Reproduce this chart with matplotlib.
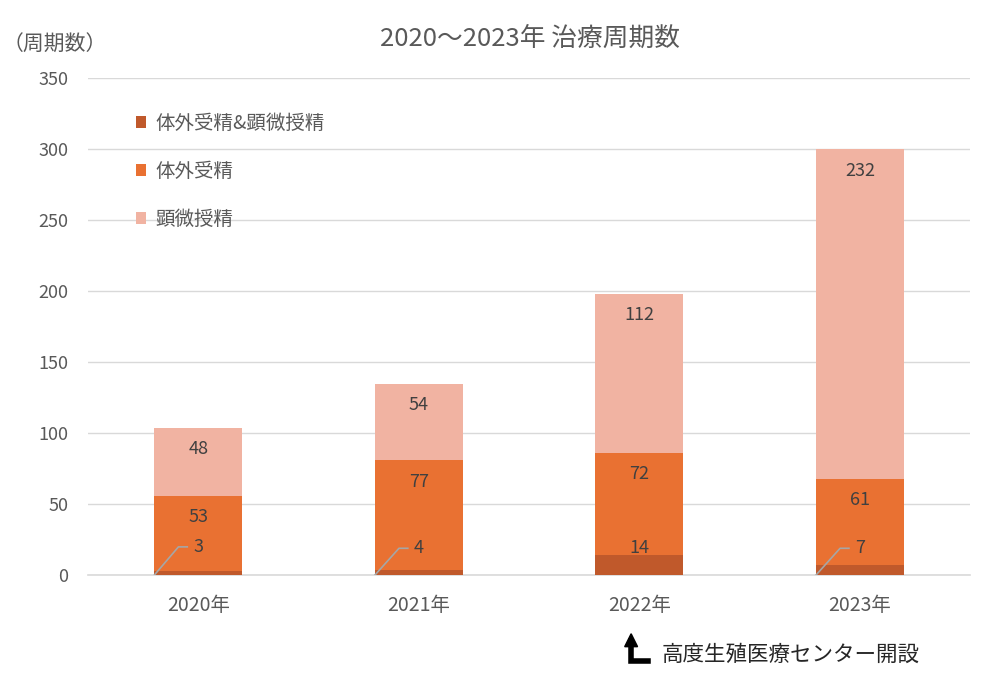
import matplotlib
matplotlib.use('Agg')
import matplotlib.pyplot as plt
import numpy as np

plt.rcParams['font.family'] = ['Noto Sans CJK JP', 'DejaVu Sans']

years = ['2020年', '2021年', '2022年', '2023年']
both = [3, 4, 14, 7]          # 体外受精&顕微授精
ivf = [53, 77, 72, 61]        # 体外受精
icsi = [48, 54, 112, 232]     # 顕微授精

names = ['体外受精&顕微授精', '体外受精', '顕微授精']
colors = ['#C0592B', '#E97132', '#F1B3A2']

# label heights (value units), as placed in the original
both_lab_y = [20, 19, 19, 19]
ivf_lab_y = [41, 66, 71, 53]
icsi_lab_y = [89, 120, 183, 285]

txt = '#595959'
fig = plt.figure(figsize=(9.9, 6.8), dpi=100)
ax = fig.add_axes([0.0889, 0.154, 0.8911, 0.731])

x = np.arange(len(years))
w = 0.4
b1 = ax.bar(x, both, w, color=colors[0], zorder=3)
b2 = ax.bar(x, ivf, w, bottom=both, color=colors[1], zorder=3)
bot3 = np.array(both) + np.array(ivf)
b3 = ax.bar(x, icsi, w, bottom=bot3, color=colors[2], zorder=3)

ax.set_xlim(-0.5, 3.5)
ax.set_ylim(0, 350)
ax.set_yticks(range(0, 351, 50))
ax.grid(axis='y', color='#D9D9D9', lw=1, zorder=0)
for s in ['top', 'right', 'left']:
    ax.spines[s].set_visible(False)
ax.spines['bottom'].set_color('#D9D9D9')
ax.spines['bottom'].set_linewidth(1.2)
ax.tick_params(length=0, labelsize=13, colors=txt)
ax.tick_params(axis='x', pad=14, labelsize=14)
ax.tick_params(axis='y', pad=14)
ax.set_xticks(x)
ax.set_xticklabels(years)

lab = dict(ha='center', va='center', fontsize=13, color='#404040', zorder=5)
for i in range(len(years)):
    ax.text(x[i], both_lab_y[i], str(both[i]), **lab)
    if both[i] < 10:
        ax.plot([x[i] - w / 2, x[i] - w / 2 + 0.11, x[i] - 0.05],
                [0, both_lab_y[i], both_lab_y[i]], color='#A6A6A6', lw=1.2, zorder=4)
    ax.text(x[i], ivf_lab_y[i], str(ivf[i]), **lab)
    ax.text(x[i], icsi_lab_y[i], str(icsi[i]), **lab)

# white backing behind the legend (hides gridlines like the original)
ax.add_patch(plt.Rectangle((0, 0.66), 0.325, 0.3, transform=ax.transAxes,
                           facecolor='white', edgecolor='none', zorder=1))
leg = ax.legend([b1, b2, b3], names, loc='upper left', bbox_to_anchor=(0.054, 0.93),
                frameon=False, fontsize=14, labelcolor=txt, handlelength=0.55,
                handleheight=0.55, handletextpad=0.45, labelspacing=1.38,
                borderpad=0, borderaxespad=0)

fig.text(0.535, 0.943, '2020～2023年 治療周期数', ha='center', va='center',
         fontsize=18.5, color=txt)
fig.text(0.003, 0.934, '（周期数）', ha='left', va='center', fontsize=15, color=txt)

# opening annotation under 2022
fig.text(0.668, 0.037, '高度生殖医療センター開設', ha='left', va='center',
         fontsize=15.5, color='#262626')
fig.add_artist(plt.Line2D([0.6375, 0.6375, 0.655], [0.058, 0.028, 0.028],
                          color='black', lw=4, solid_joinstyle='miter'))
fig.add_artist(plt.Polygon([[0.631, 0.049], [0.644, 0.049], [0.6375, 0.068]],
                           closed=True, color='black'))

fig.savefig('out.png', dpi=100)
